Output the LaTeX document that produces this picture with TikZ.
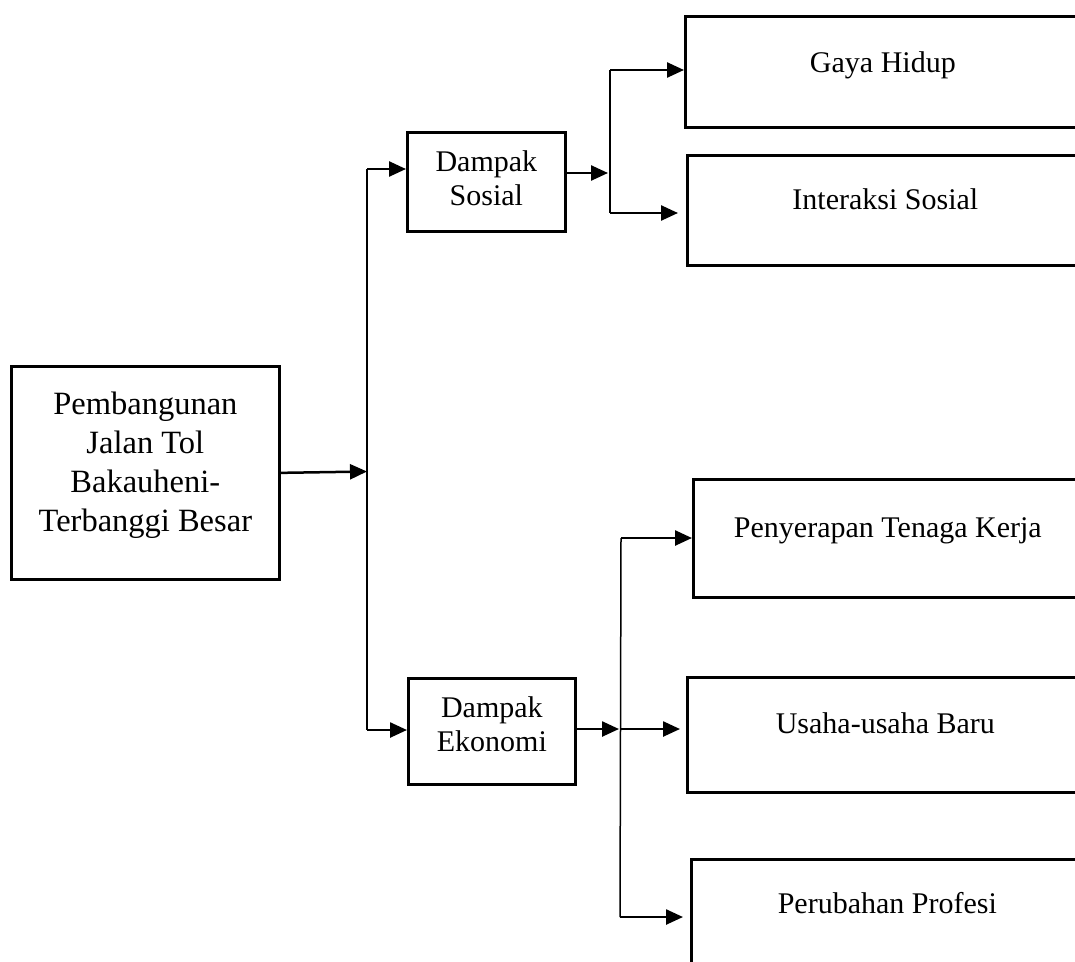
\documentclass[tikz,border=0pt]{standalone}
\usepackage{fontspec}
\setmainfont{Liberation Serif}
\usetikzlibrary{arrows.meta,calc}
\begin{document}
\begin{tikzpicture}[x=1pt,y=-1pt,
  box/.style={draw=black,line width=2.7pt,inner sep=0pt,anchor=north west,rectangle},
  wide/.style={box,font=\fontsize{30}{34}\selectfont,align=center},
  main/.style={box,font=\fontsize{32.5}{39}\selectfont,align=center},
  arr/.style={line width=2.5pt,-{Triangle[length=17pt,width=15pt]}},
  bus/.style={line width=1.5pt}]
\useasboundingbox (0,0) rectangle (1075,961);
\clip (0,0) rectangle (1075,961);
% boxes
\node[main,minimum width=268pt,minimum height=213pt] (pj) at (10,365)
  {Pembangunan\\Jalan Tol\\Bakauheni-\\Terbanggi Besar\rule[-22pt]{0pt}{0pt}};
\node[wide,minimum width=158pt,minimum height=99pt] (ds) at (406,131)
  {Dampak\\Sosial\rule[-7pt]{0pt}{0pt}};
\node[wide,minimum width=167pt,minimum height=106pt] (de) at (407,677)
  {Dampak\\Ekonomi\rule[-14pt]{0pt}{0pt}};
\node[wide,minimum width=395pt,minimum height=111pt,text height=56pt,text depth=55pt] (gh) at (684,15) {Gaya Hidup};
\node[wide,minimum width=396pt,minimum height=110pt,text height=54pt,text depth=56pt] (is) at (686,154) {Interaksi Sosial};
\node[wide,minimum width=389pt,minimum height=118pt,text height=58pt,text depth=60pt] (pt) at (692,478) {Penyerapan Tenaga Kerja};
\node[wide,minimum width=396pt,minimum height=115pt,text height=56pt,text depth=59pt] (ub) at (686,676) {Usaha-usaha Baru};
\node[wide,minimum width=392pt,minimum height=114pt,text height=54pt,text depth=60pt] (pp) at (690,858) {Perubahan Profesi};
% bus coordinates
\coordinate (b1t) at (367,169);
\coordinate (b1m) at (367,471.5);
\coordinate (b1b) at (367,730);
\coordinate (b2t) at (610,70);
\coordinate (b2m) at (610,173);
\coordinate (b2b) at (610,213);
\coordinate (b3t) at (621,538);
\coordinate (b3m) at (620,729);
\coordinate (b3b) at (620,917);
% buses
\draw[bus] (b1t) -- (b1b);
\draw[bus] (b2t) -- (b2b);
\draw[bus] (b3t) -- (b3b);
% arrows
\draw[arr] (pj.east) -- (b1m);
\draw[arr] (b1t) -- (b1t -| ds.west);
\draw[arr] (b1b) -- (b1b -| de.west);
\draw[arr] (ds.east |- b2m) -- ([xshift=-2pt]b2m);
\draw[arr] (b2t) -- (b2t -| gh.west);
\draw[arr] (b2b) -- ([xshift=-8pt]is.west |- b2b);
\draw[arr] (de.east |- b3m) -- ([xshift=-1pt]b3m);
\draw[arr] (b3t) -- (b3t -| pt.west);
\draw[arr] (b3m) -- ([xshift=-6pt]ub.west |- b3m);
\draw[arr] (b3b) -- ([xshift=-7pt]pp.west |- b3b);
\end{tikzpicture}
\end{document}
